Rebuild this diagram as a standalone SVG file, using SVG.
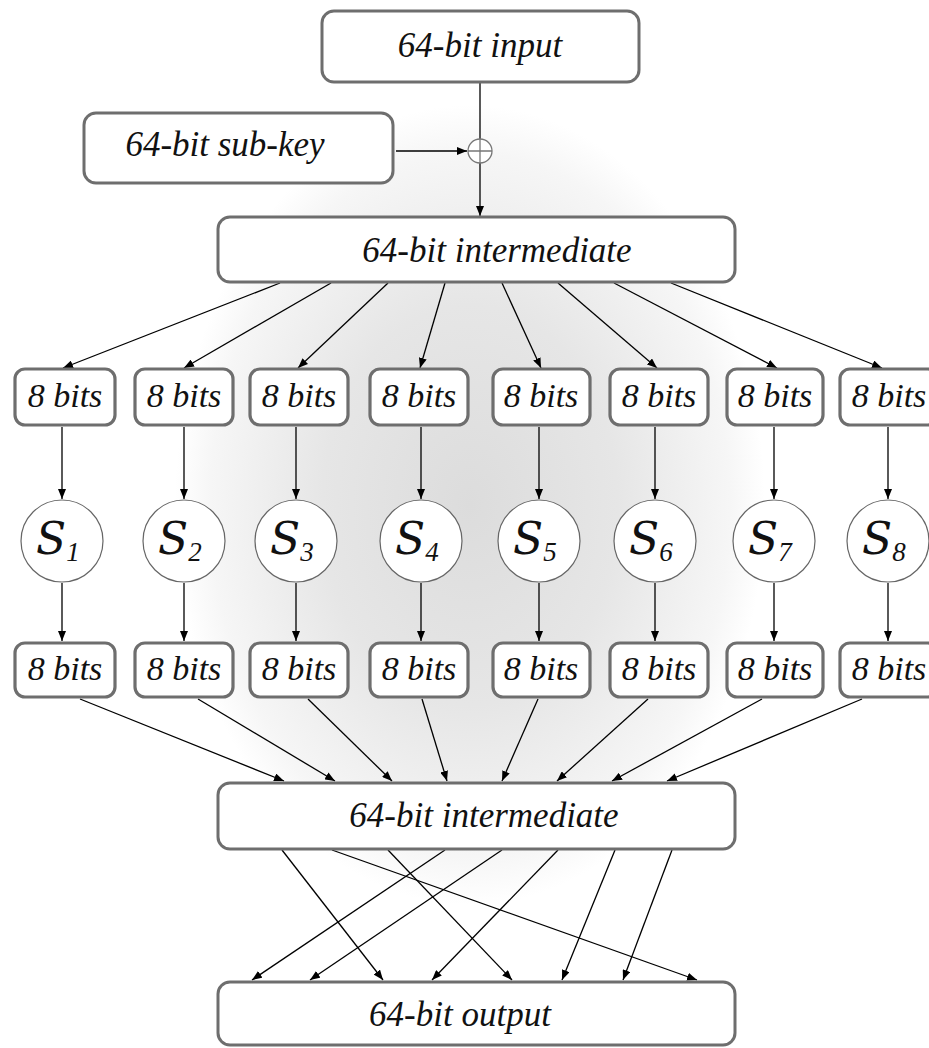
<svg xmlns="http://www.w3.org/2000/svg" width="929" height="1048" viewBox="0 0 929 1048">
<defs>
<radialGradient id="bg" cx="0.5" cy="0.5" r="0.5">
<stop offset="0" stop-color="#dcdcdc"/>
<stop offset="0.5" stop-color="#e6e6e6"/>
<stop offset="0.88" stop-color="#f6f6f6"/>
<stop offset="1" stop-color="#ffffff"/>
</radialGradient>
<marker id="ah" markerWidth="10" markerHeight="8" refX="10" refY="4" orient="auto" markerUnits="userSpaceOnUse">
<path d="M0,0 L10,4 L0,8 z" fill="#000"/>
</marker>
<style>
.box{fill:#fff;stroke:#6e6e6e;stroke-width:3}
.sbox{fill:#fff;stroke:#6e6e6e;stroke-width:3.2}
.lbl{font-size:35px;fill:#111;text-anchor:middle}
.bits{font-size:34px;fill:#111;text-anchor:middle}
.sc{fill:#fff;stroke:#666;stroke-width:1.2}
.st{font-family:"DejaVu Serif",serif;font-size:44px;fill:#111}
.sub{font-family:"Liberation Serif",serif;font-size:27px}
.c line{stroke:#000;stroke-width:1.3;marker-end:url(#ah)}
</style>
</defs>
<rect width="929" height="1048" fill="#fff"/>
<ellipse cx="470" cy="505" rx="295" ry="400" fill="url(#bg)"/>

<g id="connectors" class="c">
<line x1="480" y1="83" x2="480" y2="216"/>
<line x1="396" y1="151" x2="467" y2="151"/>
<line x1="280" y1="283" x2="63" y2="368"/>
<line x1="331" y1="283" x2="184" y2="368"/>
<line x1="388" y1="283" x2="298" y2="368"/>
<line x1="445" y1="283" x2="420" y2="368"/>
<line x1="502" y1="283" x2="541" y2="368"/>
<line x1="558" y1="283" x2="657" y2="368"/>
<line x1="614" y1="283" x2="777" y2="368"/>
<line x1="671" y1="283" x2="882" y2="368"/>
<line x1="62" y1="427" x2="62" y2="499"/>
<line x1="184" y1="427" x2="184" y2="499"/>
<line x1="296" y1="427" x2="296" y2="499"/>
<line x1="421" y1="427" x2="421" y2="499"/>
<line x1="539" y1="427" x2="539" y2="499"/>
<line x1="655" y1="427" x2="655" y2="499"/>
<line x1="774" y1="427" x2="774" y2="499"/>
<line x1="888" y1="427" x2="888" y2="499"/>
<line x1="62" y1="583" x2="62" y2="641"/>
<line x1="184" y1="583" x2="184" y2="641"/>
<line x1="296" y1="583" x2="296" y2="641"/>
<line x1="421" y1="583" x2="421" y2="641"/>
<line x1="539" y1="583" x2="539" y2="641"/>
<line x1="655" y1="583" x2="655" y2="641"/>
<line x1="774" y1="583" x2="774" y2="641"/>
<line x1="888" y1="583" x2="888" y2="641"/>
<line x1="80" y1="699" x2="284" y2="781"/>
<line x1="198" y1="699" x2="335" y2="781"/>
<line x1="308" y1="699" x2="392" y2="781"/>
<line x1="422" y1="699" x2="447" y2="781"/>
<line x1="538" y1="699" x2="502" y2="781"/>
<line x1="648" y1="699" x2="557" y2="781"/>
<line x1="762" y1="699" x2="612" y2="781"/>
<line x1="862" y1="699" x2="667" y2="781"/>
<line x1="282" y1="850" x2="383" y2="980"/>
<line x1="332" y1="850" x2="697" y2="980"/>
<line x1="388" y1="850" x2="512" y2="980"/>
<line x1="445" y1="850" x2="252" y2="980"/>
<line x1="502" y1="850" x2="310" y2="980"/>
<line x1="558" y1="850" x2="432" y2="980"/>
<line x1="615" y1="850" x2="562" y2="980"/>
<line x1="672" y1="850" x2="623" y2="980"/>
</g>

<g font-family="Liberation Serif, serif" font-style="italic">
<g id="input"><rect class="box" x="322" y="11" width="317" height="71" rx="12"/><text class="lbl" x="480" y="57">64-bit input</text></g>
<g id="subkey"><rect class="box" x="84" y="113" width="309" height="70" rx="12"/><text class="lbl" x="225" y="156">64-bit sub-key</text></g>
<g id="xor"><circle cx="480" cy="151" r="12" fill="#fff" stroke="#777" stroke-width="1.3"/><path d="M468,151 H492 M480,139 V163" stroke="#777" stroke-width="1.3"/></g>
<g id="inter1"><rect class="box" x="218" y="217" width="517" height="65" rx="12"/><text class="lbl" x="497" y="262">64-bit intermediate</text></g>

<g id="in1"><rect class="sbox" x="15" y="369" width="100" height="56" rx="10"/><text class="bits" x="65" y="407">8 bits</text></g>
<g id="in2"><rect class="sbox" x="135" y="369" width="98" height="56" rx="10"/><text class="bits" x="184" y="407">8 bits</text></g>
<g id="in3"><rect class="sbox" x="250" y="369" width="98" height="56" rx="10"/><text class="bits" x="299" y="407">8 bits</text></g>
<g id="in4"><rect class="sbox" x="370" y="369" width="98" height="56" rx="10"/><text class="bits" x="419" y="407">8 bits</text></g>
<g id="in5"><rect class="sbox" x="493" y="369" width="97" height="56" rx="10"/><text class="bits" x="541" y="407">8 bits</text></g>
<g id="in6"><rect class="sbox" x="610" y="369" width="98" height="56" rx="10"/><text class="bits" x="659" y="407">8 bits</text></g>
<g id="in7"><rect class="sbox" x="727" y="369" width="96" height="56" rx="10"/><text class="bits" x="775" y="407">8 bits</text></g>
<g id="in8"><rect class="sbox" x="840" y="369" width="98" height="56" rx="10"/><text class="bits" x="889" y="407">8 bits</text></g>

<g id="s1"><circle class="sc" cx="62" cy="541" r="41"/><text class="st" x="36" y="554">S<tspan class="sub" dy="7">1</tspan></text></g>
<g id="s2"><circle class="sc" cx="184" cy="541" r="41"/><text class="st" x="158" y="554">S<tspan class="sub" dy="7">2</tspan></text></g>
<g id="s3"><circle class="sc" cx="296" cy="541" r="41"/><text class="st" x="270" y="554">S<tspan class="sub" dy="7">3</tspan></text></g>
<g id="s4"><circle class="sc" cx="421" cy="541" r="41"/><text class="st" x="395" y="554">S<tspan class="sub" dy="7">4</tspan></text></g>
<g id="s5"><circle class="sc" cx="539" cy="541" r="41"/><text class="st" x="513" y="554">S<tspan class="sub" dy="7">5</tspan></text></g>
<g id="s6"><circle class="sc" cx="655" cy="541" r="41"/><text class="st" x="629" y="554">S<tspan class="sub" dy="7">6</tspan></text></g>
<g id="s7"><circle class="sc" cx="774" cy="541" r="41"/><text class="st" x="748" y="554">S<tspan class="sub" dy="7">7</tspan></text></g>
<g id="s8"><circle class="sc" cx="888" cy="541" r="41"/><text class="st" x="862" y="554">S<tspan class="sub" dy="7">8</tspan></text></g>

<g id="out1"><rect class="sbox" x="15" y="643" width="100" height="54" rx="10"/><text class="bits" x="65" y="680">8 bits</text></g>
<g id="out2"><rect class="sbox" x="135" y="643" width="98" height="54" rx="10"/><text class="bits" x="184" y="680">8 bits</text></g>
<g id="out3"><rect class="sbox" x="250" y="643" width="98" height="54" rx="10"/><text class="bits" x="299" y="680">8 bits</text></g>
<g id="out4"><rect class="sbox" x="370" y="643" width="98" height="54" rx="10"/><text class="bits" x="419" y="680">8 bits</text></g>
<g id="out5"><rect class="sbox" x="493" y="643" width="97" height="54" rx="10"/><text class="bits" x="541" y="680">8 bits</text></g>
<g id="out6"><rect class="sbox" x="610" y="643" width="98" height="54" rx="10"/><text class="bits" x="659" y="680">8 bits</text></g>
<g id="out7"><rect class="sbox" x="727" y="643" width="96" height="54" rx="10"/><text class="bits" x="775" y="680">8 bits</text></g>
<g id="out8"><rect class="sbox" x="840" y="643" width="98" height="54" rx="10"/><text class="bits" x="889" y="680">8 bits</text></g>

<g id="inter2"><rect class="box" x="218" y="783" width="517" height="66" rx="12"/><text class="lbl" x="484" y="827">64-bit intermediate</text></g>
<g id="output"><rect class="box" x="218" y="982" width="517" height="63" rx="12"/><text class="lbl" x="460" y="1026">64-bit output</text></g>
</g>
</svg>
